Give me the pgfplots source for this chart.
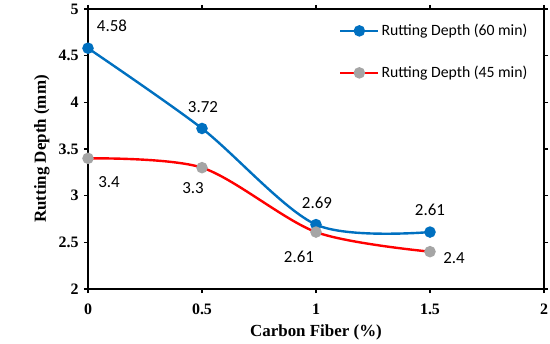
\documentclass[border=0pt]{standalone}
\usepackage{pgfplots}
\pgfplotsset{compat=1.18}
\usepackage{fontspec}
\setmainfont{Liberation Serif}
\newfontfamily\calfont{Carlito}
\definecolor{cblue}{RGB}{0,112,192}
\definecolor{cgray}{RGB}{165,165,165}
\begin{document}
\begin{tikzpicture}
\begin{axis}[
  at={(0,0)}, anchor=south west,
  scale only axis, width=456bp, height=280bp,
  xmin=0, xmax=2, ymin=2, ymax=5,
  xtick={0,0.5,1,1.5,2}, ytick={2,2.5,3,3.5,4,4.5,5},
  tick align=outside, major tick length=4bp,
  axis line style={line width=1.5bp},
  every tick/.style={black, line width=1.2bp},
  /pgf/number format/assume math mode=true,
  ticklabel style={font=\fontsize{16}{18}\selectfont\bfseries},
  xticklabel style={yshift=-7bp},
  yticklabel style={xshift=-2bp},
  xlabel={\textbf{Carbon Fiber (\%)}},
  ylabel={\textbf{Rutting Depth (mm)}},
  label style={font=\fontsize{17}{19}\selectfont},
  xlabel style={yshift=-4bp},
  ylabel style={yshift=2bp},
  legend style={at={(rel axis cs:0.975,0.96)}, anchor=north east, draw=none, fill=none,
    font=\calfont\fontsize{15.8}{18}\selectfont, row sep=25bp,
    /tikz/every even column/.append style={column sep=0bp}},
  legend cell align=left,
  legend image code/.code={\draw[#1, mark=none] (0bp,0bp) -- (38bp,0bp);
     \path plot[#1, mark=*] coordinates {(19bp,0bp)};},
  clip=false,
]
\addplot[cblue, line width=2.4bp, smooth, tension=0.5, mark=*, mark size=4.5bp,
  mark options={fill=cblue, draw=cblue}] coordinates {
  (0,4.58) (0.5,3.72) (1,2.69) (1.5,2.61)};
\addlegendentry{Rutting Depth (60 min)}
\addplot[red, line width=2.4bp, smooth, tension=0.5, mark=*, mark size=4.5bp,
  mark options={fill=cgray, draw=cgray}] coordinates {
  (0,3.4) (0.5,3.3) (1,2.61) (1.5,2.4)};
\addlegendentry{Rutting Depth (45 min)}
\begin{scope}[every node/.style={font=\calfont\fontsize{17}{19}\selectfont}]
\node at (axis cs:0,4.58) [xshift=24bp, yshift=22bp] {4.58};
\node at (axis cs:0.5,3.72) [xshift=1bp, yshift=21bp] {3.72};
\node at (axis cs:1,2.69) [xshift=1bp, yshift=22bp] {2.69};
\node at (axis cs:1.5,2.61) [xshift=0bp, yshift=22bp] {2.61};
\node at (axis cs:0,3.4) [xshift=21bp, yshift=-24bp] {3.4};
\node at (axis cs:0.5,3.3) [xshift=-9bp, yshift=-20bp] {3.3};
\node at (axis cs:1,2.61) [xshift=-17bp, yshift=-25bp] {2.61};
\node at (axis cs:1.5,2.4) [xshift=24bp, yshift=-6bp] {2.4};
\end{scope}
\end{axis}
\pgfresetboundingbox
\path (-88bp,-55bp) rectangle (462bp,289bp);
\end{tikzpicture}
\end{document}
